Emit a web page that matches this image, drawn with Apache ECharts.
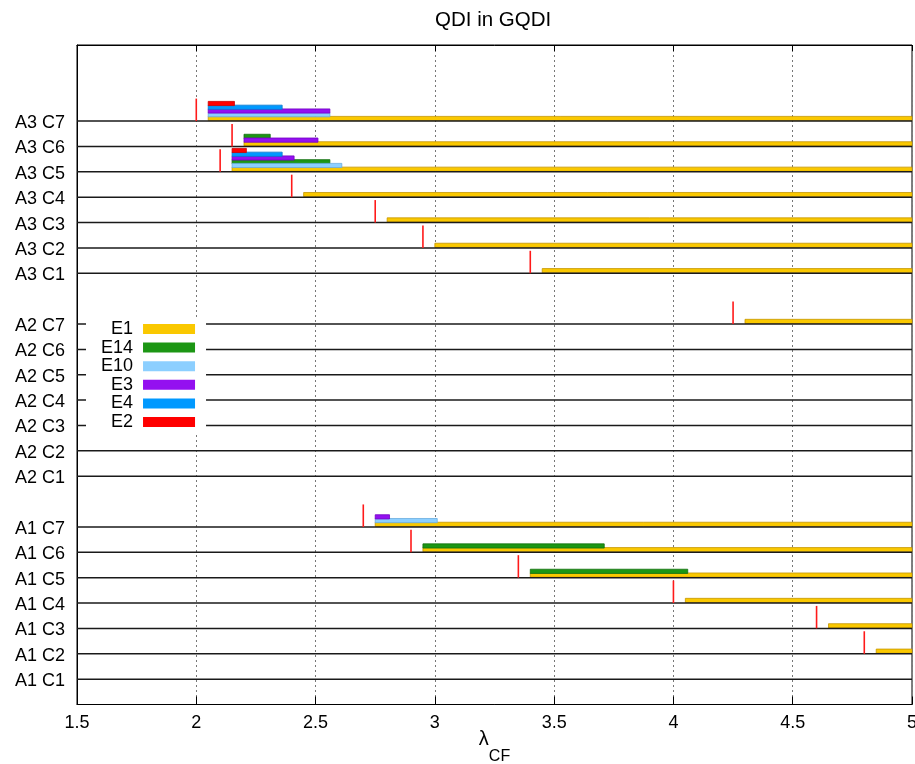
<!DOCTYPE html>
<html>
<head>
<meta charset="utf-8">
<script src="https://cdn.jsdelivr.net/npm/echarts@6/dist/echarts.min.js"></script>
<style>
  html, body { margin: 0; padding: 0; background: #fff; }
  #chart { width: 915px; height: 764px; }
</style>
</head>
<body>
<div id="chart"></div>
<script>
// Category labels, bottom to top (three groups of seven configurations)
const categories = [
  'A1 C1', 'A1 C2', 'A1 C3', 'A1 C4', 'A1 C5', 'A1 C6', 'A1 C7',
  'A2 C1', 'A2 C2', 'A2 C3', 'A2 C4', 'A2 C5', 'A2 C6', 'A2 C7',
  'A3 C1', 'A3 C2', 'A3 C3', 'A3 C4', 'A3 C5', 'A3 C6', 'A3 C7'
];

// Critical λ marker per category
const thresholds = [
  ['A1 C2', 4.8], ['A1 C3', 4.6], ['A1 C4', 4.0], ['A1 C5', 3.35],
  ['A1 C6', 2.9], ['A1 C7', 2.7], ['A2 C7', 4.25],
  ['A3 C1', 3.4], ['A3 C2', 2.95], ['A3 C3', 2.75], ['A3 C4', 2.4],
  ['A3 C5', 2.1], ['A3 C6', 2.15], ['A3 C7', 2.0]
];

// Intervals [category, λ start, λ end] for each entry
const e1 = [
  ['A1 C2', 4.85, 5], ['A1 C3', 4.65, 5], ['A1 C4', 4.05, 5], ['A1 C5', 3.4, 5],
  ['A1 C6', 2.95, 5], ['A1 C7', 2.75, 5], ['A2 C7', 4.3, 5],
  ['A3 C1', 3.45, 5], ['A3 C2', 3.0, 5], ['A3 C3', 2.8, 5], ['A3 C4', 2.45, 5],
  ['A3 C5', 2.15, 5], ['A3 C6', 2.2, 5], ['A3 C7', 2.05, 5]
];
const e14 = [['A1 C5', 3.4, 4.06], ['A1 C6', 2.95, 3.71], ['A3 C5', 2.15, 2.56], ['A3 C6', 2.2, 2.31]];
const e10 = [['A1 C7', 2.75, 3.01], ['A3 C5', 2.15, 2.61], ['A3 C7', 2.05, 2.56]];
const e3  = [['A1 C7', 2.75, 2.81], ['A3 C5', 2.15, 2.41], ['A3 C6', 2.2, 2.51], ['A3 C7', 2.05, 2.56]];
const e4  = [['A3 C5', 2.15, 2.36], ['A3 C7', 2.05, 2.36]];
const e2  = [['A3 C5', 2.15, 2.21], ['A3 C7', 2.05, 2.16]];

const xTicks = { min: 1.5, max: 5, step: 0.5 };

const FONT = 'Liberation Sans, Arial, Helvetica, sans-serif';

const entries = [
  { name: 'E1',  data: e1,  fill: '#fac800', edge: '#c49600' },
  { name: 'E14', data: e14, fill: '#1c9614', edge: '#137010' },
  { name: 'E10', data: e10, fill: '#8ccfff', edge: '#68ace0' },
  { name: 'E3',  data: e3,  fill: '#9410f0', edge: '#7400c4' },
  { name: 'E4',  data: e4,  fill: '#0099ff', edge: '#0a78cc' },
  { name: 'E2',  data: e2,  fill: '#ff0000', edge: '#cc0000' }
];

// vertical slot of a category: groups of seven with one empty slot between
function slotOf(label) {
  const i = categories.indexOf(label);
  return Math.floor(i / 7) * 8 + (i % 7) + 1;
}
const slotLabels = {};
categories.forEach(c => { slotLabels[slotOf(c)] = c; });

// stacking level inside each category: longest interval lowest
const levels = {};
const perCat = {};
entries.forEach((e, si) => {
  e.data.forEach(([c, s, t]) => {
    (perCat[c] = perCat[c] || []).push({ si, c, len: t - s });
  });
});
Object.keys(perCat).forEach(c => {
  perCat[c].slice().sort((a, b) => (b.len - a.len) || (a.si - b.si))
    .forEach((item, k) => { levels[item.si + '|' + c] = k; });
});

const barSeries = entries.map((e, si) => ({
  name: e.name,
  type: 'custom',
  z: 2,
  itemStyle: { color: e.fill },
  encode: { x: [0, 1], y: 2 },
  data: e.data.map(([c, s, t]) => [s, t, slotOf(c), levels[si + '|' + c]]),
  renderItem: function (params, api) {
    const a = api.coord([api.value(0), api.value(2)]);
    const b = api.coord([api.value(1), api.value(2)]);
    const cy = a[1] - 2.6 - 3.75 * api.value(3);
    return {
      type: 'rect',
      shape: { x: a[0], y: cy - 2.1, width: b[0] - a[0], height: 4.2 },
      style: { fill: e.fill, stroke: e.edge, lineWidth: 0.8 }
    };
  }
}));

const baselineSeries = {
  type: 'custom',
  z: 3,
  silent: true,
  encode: { y: 0 },
  data: categories.map(c => [slotOf(c)]),
  renderItem: function (params, api) {
    const cs = params.coordSys;
    const y = api.coord([xTicks.min, api.value(0)])[1];
    return {
      type: 'line',
      shape: { x1: cs.x, y1: y, x2: cs.x + cs.width, y2: y },
      style: { stroke: '#1a1a1a', lineWidth: 1.5 }
    };
  }
};

const thresholdSeries = {
  type: 'custom',
  z: 3,
  silent: true,
  encode: { x: 0, y: 1 },
  data: thresholds.map(([c, v]) => [v, slotOf(c)]),
  renderItem: function (params, api) {
    const p = api.coord([api.value(0), api.value(1)]);
    return {
      type: 'rect',
      shape: { x: p[0] - 0.8, y: p[1] - 22.5, width: 1.6, height: 22.5 },
      style: { fill: '#ff1a1a' }
    };
  }
};

const chart = echarts.init(document.getElementById('chart'), null, { renderer: 'canvas' });
chart.setOption({
  animation: false,
  backgroundColor: '#fff',
  title: {
    text: 'QDI in GQDI',
    left: 435, top: 10, padding: 0,
    textStyle: { fontFamily: FONT, fontSize: 20.5, fontWeight: 'normal', color: '#000' }
  },
  grid: {
    left: 77, right: 3, top: 45, bottom: 59.5,
    containLabel: false, outerBoundsMode: 'none',
    show: true, borderColor: '#000', borderWidth: 1
  },
  legend: {
    z: 10,
    orient: 'vertical', left: 86, top: 319, align: 'right',
    backgroundColor: '#fff', padding: [1, 11, 2, 15],
    itemWidth: 52, itemHeight: 10, itemGap: 0.6,
    selectedMode: false,
    itemStyle: { borderWidth: 0 },
    textStyle: { fontFamily: FONT, fontSize: 18, color: '#000', padding: [0, 5, 0, 0] },
    data: entries.map(e => ({ name: e.name, icon: 'rect' }))
  },
  xAxis: [{
    type: 'value', position: 'bottom',
    min: xTicks.min, max: xTicks.max, interval: xTicks.step,
    axisLine: { lineStyle: { color: '#000', width: 1 } },
    axisTick: { inside: true, length: 8, lineStyle: { color: '#000' } },
    axisLabel: { margin: 10, fontFamily: FONT, fontSize: 18, color: '#000', showMaxLabel: true, showMinLabel: true },
    splitLine: { show: true, lineStyle: { color: '#777', width: 1, type: [2, 3] } },
    name: '{l|λ}{s|CF}',
    nameLocation: 'middle', nameGap: 25, nameMoveOverlap: false,
    nameTextStyle: {
      verticalAlign: 'top',
      rich: {
        l: { fontFamily: FONT, fontSize: 20, lineHeight: 20, verticalAlign: 'top', color: '#000' },
        s: { fontFamily: FONT, fontSize: 16, lineHeight: 18, padding: [19, 0, 0, 0], verticalAlign: 'top', color: '#000' }
      }
    }
  }, {
    type: 'value', position: 'top',
    min: xTicks.min, max: xTicks.max, interval: xTicks.step,
    axisLine: { lineStyle: { color: '#000', width: 1 } },
    axisTick: { inside: true, length: 6, lineStyle: { color: '#000' } },
    axisLabel: { show: false },
    splitLine: { show: false }
  }],
  yAxis: {
    type: 'value', min: 0, max: 26, interval: 1,
    axisLine: { show: true, lineStyle: { color: '#000', width: 1 } },
    axisTick: { show: false },
    splitLine: { show: false },
    axisLabel: {
      margin: 12, color: '#000',
      formatter: v => slotLabels[v] ? '{c|' + slotLabels[v] + '}' : '',
      rich: { c: { fontFamily: FONT, fontSize: 18, color: '#000', padding: [4, 0, 0, 0] } }
    }
  },
  series: [baselineSeries, thresholdSeries].concat(barSeries)
});
</script>
</body>
</html>
